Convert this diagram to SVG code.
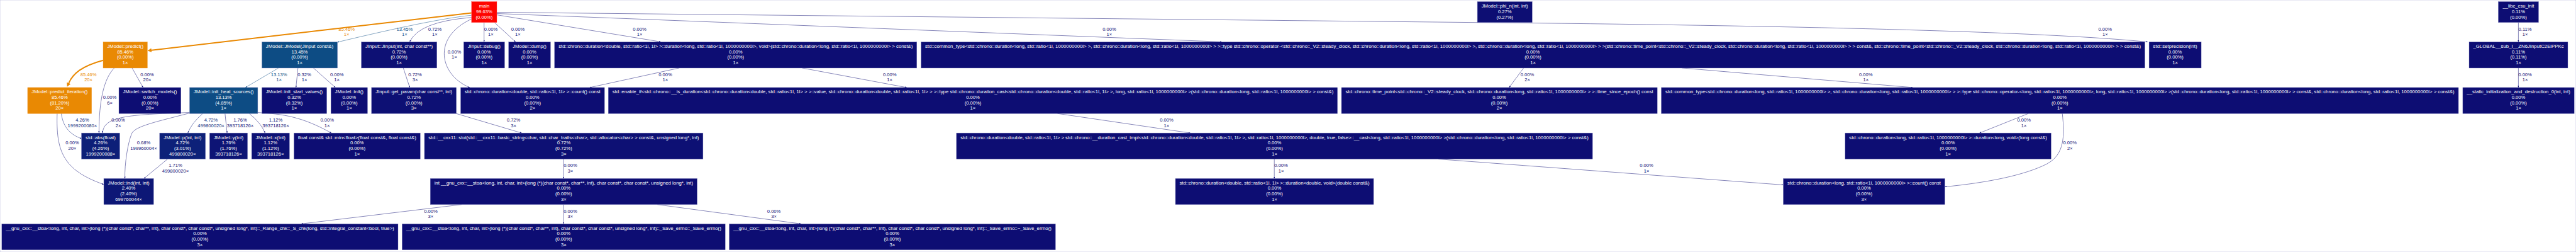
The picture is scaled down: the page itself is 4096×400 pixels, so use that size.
<svg xmlns="http://www.w3.org/2000/svg" width="4096" height="400" viewBox="0 0 4096 400">
<style>
text{font-family:"Liberation Sans",Arial,sans-serif;font-size:7.6px;text-anchor:middle}
.t{fill:#ffffff}
rect{stroke:#8a8ac4;stroke-width:0.4}
.c0{fill:#0d0d73}.c1{fill:#0d0e73}.c2{fill:#0d1074}.c3{fill:#0d1174}.c4{fill:#0d1475}.c5{fill:#0d1776}.c6{fill:#0d1f78}.c7{fill:#0d2179}
.ct{fill:#0d4c84}.co{fill:#e98903;stroke:#f0a040}.cr{fill:#fe0400;stroke:#ff6060}
.e{fill:none;stroke-width:0.5}
.ed{stroke:#0d0d73}.eb{stroke:#0d1f78}.et{stroke:#0d4c84}.eo{stroke:#e98903;stroke-width:2}
.ld{fill:#0d0d73}.lb{fill:#0d1f78}.lt{fill:#0d4c84}.lo{fill:#e98903}
</style>
<defs>
<marker id="ad" viewBox="0 0 10 10" refX="10" refY="5" markerUnits="userSpaceOnUse" markerWidth="2.8" markerHeight="2.2" preserveAspectRatio="none" orient="auto"><path d="M0,0L10,5L0,10z" fill="#0d0d73"/></marker>
<marker id="ab" viewBox="0 0 10 10" refX="10" refY="5" markerUnits="userSpaceOnUse" markerWidth="2.8" markerHeight="2.2" preserveAspectRatio="none" orient="auto"><path d="M0,0L10,5L0,10z" fill="#0d1f78"/></marker>
<marker id="at" viewBox="0 0 10 10" refX="10" refY="5" markerUnits="userSpaceOnUse" markerWidth="2.8" markerHeight="2.2" preserveAspectRatio="none" orient="auto"><path d="M0,0L10,5L0,10z" fill="#0d4c84"/></marker>
<marker id="ao" viewBox="0 0 10 10" refX="0" refY="5" markerUnits="userSpaceOnUse" markerWidth="6.5" markerHeight="6.4" preserveAspectRatio="none" orient="auto"><path d="M0,0L10,5L0,10z" fill="#e98903"/></marker>
</defs>
<rect x="0" y="0" width="4096" height="400" fill="#ffffff" stroke="none"/>

<g id="edges">
<path class="e eo" d="M749.8,20.4L240.9,79.75" marker-end="url(#ao)"/>
<path class="e et" d="M749.8,24.2Q690,30 536.6,66.9" marker-end="url(#at)"/>
<path class="e ed" d="M749.8,27.7Q666.1,34.2 651.5,66.4" marker-end="url(#ad)"/>
<path class="e ed" d="M769.7,35.7L769.7,66.6" marker-end="url(#ad)"/>
<path class="e ed" d="M786.3,35.7L819.9,66.6" marker-end="url(#ad)"/>
<path class="e ed" d="M749.8,30.1C685,60 700,120 747,138.9" marker-end="url(#ad)"/>
<path class="e ed" d="M790,23.6L1050.7,66.4" marker-end="url(#ad)"/>
<path class="e ed" d="M790,21.5L1942.7,66.4" marker-end="url(#ad)"/>
<path class="e ed" d="M790,19.5L2436,36.6Q3200,45 3414.9,66.6" marker-end="url(#ad)"/>
<path class="e eo" d="M164,95.7C129.7,104.9 116,117 109.3,131.9" marker-end="url(#ao)"/>
<path class="e ed" d="M181.7,107.9C165,125 157.4,160 157.4,211.1" marker-end="url(#ad)"/>
<path class="e ed" d="M210,107.9L227.5,138.9" marker-end="url(#ad)"/>
<path class="e eb" d="M97.5,180.2C100,200 110,213 129.5,220" marker-end="url(#ab)"/>
<path class="e ed" d="M90.9,180.2C89,240 100,270 165,292.8" marker-end="url(#ad)"/>
<path class="e ed" d="M301.4,178.6C200,182 165,185 163.1,211.1" marker-end="url(#ad)"/>
<path class="e ed" d="M301.4,179.5C250,193 215,200 209.4,212C203,228 198,260 198.6,283.3" marker-end="url(#ad)"/>
<path class="e eb" d="M322.3,180.2Q305,195 298.7,211.1" marker-end="url(#ab)"/>
<path class="e ed" d="M357.8,180.2L361.1,211.1" marker-end="url(#ad)"/>
<path class="e ed" d="M396.4,180.2Q415,195 421.4,211.1" marker-end="url(#ad)"/>
<path class="e ed" d="M409.9,178.6C450,181 480,185 526.8,211.1" marker-end="url(#ad)"/>
<path class="e ed" d="M266.4,252.5L228.9,283.3" marker-end="url(#ad)"/>
<path class="e et" d="M442.7,108L390.2,138.9" marker-end="url(#at)"/>
<path class="e ed" d="M473.8,107.9L470.6,138.9" marker-end="url(#ad)"/>
<path class="e ed" d="M498.3,107.9L533.3,138.9" marker-end="url(#ad)"/>
<path class="e ed" d="M641.3,107.9L651.5,138.9" marker-end="url(#ad)"/>
<path class="e ed" d="M725.2,180.2L829.4,211.1" marker-end="url(#ad)"/>
<path class="e ed" d="M896.1,252.5L896.1,283.3" marker-end="url(#ad)"/>
<path class="e ed" d="M733.9,324.7L479.2,355.3" marker-end="url(#ad)"/>
<path class="e ed" d="M896.1,324.7L896.1,355.3" marker-end="url(#ad)"/>
<path class="e ed" d="M1045.3,324.7L1273.6,355.3" marker-end="url(#ad)"/>
<path class="e ed" d="M1080.2,107.9L937.8,138.9" marker-end="url(#ad)"/>
<path class="e ed" d="M1275.3,107.9L1441.7,138.9" marker-end="url(#ad)"/>
<path class="e ed" d="M1681.5,180.2L1892.6,211.1" marker-end="url(#ad)"/>
<path class="e ed" d="M2026.2,252.5L2026.2,283.3" marker-end="url(#ad)"/>
<path class="e ed" d="M2286.8,252.5L2835.5,293.5" marker-end="url(#ad)"/>
<path class="e ed" d="M2422.6,107.9L2399.6,138.9" marker-end="url(#ad)"/>
<path class="e ed" d="M2674.3,107.9L3041.4,138.9" marker-end="url(#ad)"/>
<path class="e ed" d="M3225.2,180.2L3147.7,211.1" marker-end="url(#ad)"/>
<path class="e ed" d="M3279.2,180.2C3283,215 3283,245 3255,260C3220,278 3160,290 3092.4,296.5" marker-end="url(#ad)"/>
<path class="e ed" d="M4004.4,35.7L4004.4,66.6" marker-end="url(#ad)"/>
<path class="e ed" d="M4004.4,108L4004.4,138.9" marker-end="url(#ad)"/>

<text class="lo" x="551.1" y="48.8">85.46%</text><text class="lo" x="551.1" y="57.3">1×</text>
<text class="lt" x="643.4" y="48.8">13.45%</text><text class="lt" x="643.4" y="57.3">1×</text>
<text class="ld" x="691.4" y="48.8">0.72%</text><text class="ld" x="691.4" y="57.3">1×</text>
<text class="ld" x="780.4" y="48.8">0.00%</text><text class="ld" x="780.4" y="57.3">1×</text>
<text class="ld" x="823.4" y="48.8">0.00%</text><text class="ld" x="823.4" y="57.3">1×</text>
<text class="ld" x="722.4" y="84.7">0.00%</text><text class="ld" x="722.4" y="93.4">1×</text>
<text class="ld" x="1017" y="48.8">0.00%</text><text class="ld" x="1017" y="57.3">1×</text>
<text class="ld" x="1763.9" y="48.8">0.00%</text><text class="ld" x="1763.9" y="57.3">1×</text>
<text class="ld" x="3347.3" y="48.8">0.00%</text><text class="ld" x="3347.3" y="57.3">1×</text>
<text class="lo" x="140.6" y="120.7">85.46%</text><text class="lo" x="140.6" y="129.4">20×</text>
<text class="ld" x="174.5" y="157.1">0.00%</text><text class="ld" x="174.5" y="165.6">6×</text>
<text class="ld" x="234" y="120.7">0.00%</text><text class="ld" x="234" y="129.4">20×</text>
<text class="lb" x="130.9" y="193">4.26%</text><text class="lb" x="130.9" y="201.9">1999200080×</text>
<text class="ld" x="114.9" y="229.2">0.00%</text><text class="ld" x="114.9" y="237.9">20×</text>
<text class="ld" x="188" y="193">0.00%</text><text class="ld" x="188" y="201.9">2×</text>
<text class="ld" x="228.5" y="229.2">0.68%</text><text class="ld" x="228.5" y="237.9">199960004×</text>
<text class="lb" x="335.6" y="193">4.72%</text><text class="lb" x="335.6" y="201.9">499800020×</text>
<text class="ld" x="382" y="193">1.76%</text><text class="ld" x="382" y="201.9">393718126×</text>
<text class="ld" x="438.5" y="193">1.12%</text><text class="ld" x="438.5" y="201.9">393718126×</text>
<text class="ld" x="520.2" y="193">0.00%</text><text class="ld" x="520.2" y="201.9">1×</text>
<text class="ld" x="278.9" y="265.2">1.71%</text><text class="ld" x="278.9" y="274.1">499800020×</text>
<text class="lt" x="443.7" y="120.7">13.13%</text><text class="lt" x="443.7" y="129.4">1×</text>
<text class="ld" x="484" y="120.7">0.32%</text><text class="ld" x="484" y="129.4">1×</text>
<text class="ld" x="535.7" y="120.7">0.00%</text><text class="ld" x="535.7" y="129.4">1×</text>
<text class="ld" x="660.1" y="120.7">0.72%</text><text class="ld" x="660.1" y="129.4">3×</text>
<text class="ld" x="816.6" y="193">0.72%</text><text class="ld" x="816.6" y="201.9">3×</text>
<text class="ld" x="906.9" y="265.2">0.00%</text><text class="ld" x="906.9" y="274.1">3×</text>
<text class="ld" x="684.9" y="337.7">0.00%</text><text class="ld" x="684.9" y="346.4">3×</text>
<text class="ld" x="906.9" y="337.7">0.00%</text><text class="ld" x="906.9" y="346.4">3×</text>
<text class="ld" x="1230.6" y="337.7">0.00%</text><text class="ld" x="1230.6" y="346.4">3×</text>
<text class="ld" x="1057.9" y="120.7">0.00%</text><text class="ld" x="1057.9" y="129.4">1×</text>
<text class="ld" x="1414.7" y="120.7">0.00%</text><text class="ld" x="1414.7" y="129.4">1×</text>
<text class="ld" x="1854.9" y="193">0.00%</text><text class="ld" x="1854.9" y="201.9">1×</text>
<text class="ld" x="2037.1" y="265.2">0.00%</text><text class="ld" x="2037.1" y="274.1">1×</text>
<text class="ld" x="2618" y="265.2">0.00%</text><text class="ld" x="2618" y="274.1">1×</text>
<text class="ld" x="2428.5" y="120.7">0.00%</text><text class="ld" x="2428.5" y="129.4">2×</text>
<text class="ld" x="2966.8" y="120.7">0.00%</text><text class="ld" x="2966.8" y="129.4">1×</text>
<text class="ld" x="3218.2" y="193">0.00%</text><text class="ld" x="3218.2" y="201.9">1×</text>
<text class="ld" x="3291.3" y="229.2">0.00%</text><text class="ld" x="3291.3" y="237.9">2×</text>
<text class="ld" x="4015.1" y="48.8">0.11%</text><text class="ld" x="4015.1" y="57.3">1×</text>
<text class="ld" x="4015.1" y="120.7">0.00%</text><text class="ld" x="4015.1" y="129.4">1×</text>
</g>

<g id="n_main"><rect class="cr" x="749.8" y="2.5" width="40.2" height="33.2"/><text class="t" x="769.9" y="12.4">main</text><text class="t" x="769.9" y="21.1">99.63%</text><text class="t" x="769.9" y="29.8">(0.00%)</text></g>
<g id="n_phi_n"><rect class="c1" x="2349.1" y="2.5" width="87.2" height="33.2"/><text class="t" x="2392.7" y="12.4" textLength="74" lengthAdjust="spacingAndGlyphs">JModel::phi_n(int, int)</text><text class="t" x="2392.7" y="21.1">0.27%</text><text class="t" x="2392.7" y="29.8">(0.27%)</text></g>
<g id="n_libc"><rect class="c0" x="3972.4" y="2.5" width="64.1" height="33.2"/><text class="t" x="4004.45" y="12.4">__libc_csu_init</text><text class="t" x="4004.45" y="21.1">0.11%</text><text class="t" x="4004.45" y="29.8">(0.00%)</text></g>

<g id="n_predict"><rect class="co" x="164" y="66.6" width="70.4" height="41.4"/><text class="t" x="199.2" y="76" textLength="57.6" lengthAdjust="spacingAndGlyphs">JModel::predict()</text><text class="t" x="199.2" y="84.7">85.46%</text><text class="t" x="199.2" y="93.4">(0.00%)</text><text class="t" x="199.2" y="102.1">1×</text></g>
<g id="n_jmodel"><rect class="ct" x="416.4" y="66.6" width="120.2" height="41.4"/><text class="t" x="476.5" y="76" textLength="107.3" lengthAdjust="spacingAndGlyphs">JModel::JModel(JInput const&amp;)</text><text class="t" x="476.5" y="84.7">13.45%</text><text class="t" x="476.5" y="93.4">(0.00%)</text><text class="t" x="476.5" y="102.1">1×</text></g>
<g id="n_jinput"><rect class="c2" x="574.5" y="66.6" width="120.2" height="41.4"/><text class="t" x="634.6" y="76" textLength="107.3" lengthAdjust="spacingAndGlyphs">JInput::JInput(int, char const**)</text><text class="t" x="634.6" y="84.7">0.72%</text><text class="t" x="634.6" y="93.4">(0.00%)</text><text class="t" x="634.6" y="102.1">1×</text></g>
<g id="n_debug"><rect class="c0" x="737.2" y="66.6" width="65.2" height="41.4"/><text class="t" x="769.8" y="76" textLength="52.3" lengthAdjust="spacingAndGlyphs">JInput::debug()</text><text class="t" x="769.8" y="84.7">0.00%</text><text class="t" x="769.8" y="93.4">(0.00%)</text><text class="t" x="769.8" y="102.1">1×</text></g>
<g id="n_dump"><rect class="c0" x="808.7" y="66.6" width="66.7" height="41.4"/><text class="t" x="842.05" y="76" textLength="53.8" lengthAdjust="spacingAndGlyphs">JModel::dump()</text><text class="t" x="842.05" y="84.7">0.00%</text><text class="t" x="842.05" y="93.4">(0.00%)</text><text class="t" x="842.05" y="102.1">1×</text></g>
<g id="n_dur_ctor"><rect class="c0" x="881.7" y="66.6" width="576.1" height="41.4"/><text class="t" x="1169.75" y="76" textLength="563.2" lengthAdjust="spacingAndGlyphs">std::chrono::duration&lt;double, std::ratio&lt;1l, 1l&gt; &gt;::duration&lt;long, std::ratio&lt;1l, 1000000000l&gt;, void&gt;(std::chrono::duration&lt;long, std::ratio&lt;1l, 1000000000l&gt; &gt; const&amp;)</text><text class="t" x="1169.75" y="84.7">0.00%</text><text class="t" x="1169.75" y="93.4">(0.00%)</text><text class="t" x="1169.75" y="102.1">1×</text></g>
<g id="n_op_minus_tp"><rect class="c0" x="1464.5" y="66.6" width="1946" height="41.4"/><text class="t" x="2437.5" y="76" textLength="1933.1" lengthAdjust="spacingAndGlyphs">std::common_type&lt;std::chrono::duration&lt;long, std::ratio&lt;1l, 1000000000l&gt; &gt;, std::chrono::duration&lt;long, std::ratio&lt;1l, 1000000000l&gt; &gt; &gt;::type std::chrono::operator-&lt;std::chrono::_V2::steady_clock, std::chrono::duration&lt;long, std::ratio&lt;1l, 1000000000l&gt; &gt;, std::chrono::duration&lt;long, std::ratio&lt;1l, 1000000000l&gt; &gt; &gt;(std::chrono::time_point&lt;std::chrono::_V2::steady_clock, std::chrono::duration&lt;long, std::ratio&lt;1l, 1000000000l&gt; &gt; &gt; const&amp;, std::chrono::time_point&lt;std::chrono::_V2::steady_clock, std::chrono::duration&lt;long, std::ratio&lt;1l, 1000000000l&gt; &gt; &gt; const&amp;)</text><text class="t" x="2437.5" y="84.7">0.00%</text><text class="t" x="2437.5" y="93.4">(0.00%)</text><text class="t" x="2437.5" y="102.1">1×</text></g>
<g id="n_setprecision"><rect class="c0" x="3417.1" y="66.6" width="83" height="41.4"/><text class="t" x="3458.6" y="76" textLength="70.1" lengthAdjust="spacingAndGlyphs">std::setprecision(int)</text><text class="t" x="3458.6" y="84.7">0.00%</text><text class="t" x="3458.6" y="93.4">(0.00%)</text><text class="t" x="3458.6" y="102.1">1×</text></g>
<g id="n_global"><rect class="c0" x="3926" y="66.6" width="157" height="41.4"/><text class="t" x="4004.5" y="76" textLength="144.1" lengthAdjust="spacingAndGlyphs">_GLOBAL__sub_I__ZN6JInputC2EiPPKc</text><text class="t" x="4004.5" y="84.7">0.11%</text><text class="t" x="4004.5" y="93.4">(0.11%)</text><text class="t" x="4004.5" y="102.1">1×</text></g>

<g id="n_predict_iteration"><rect class="co" x="43.9" y="138.9" width="101.8" height="41.4"/><text class="t" x="94.8" y="148.3" textLength="88.9" lengthAdjust="spacingAndGlyphs">JModel::predict_iteration()</text><text class="t" x="94.8" y="157">85.46%</text><text class="t" x="94.8" y="165.7">(81.20%)</text><text class="t" x="94.8" y="174.4">20×</text></g>
<g id="n_switch_models"><rect class="c0" x="189" y="138.9" width="98.8" height="41.4"/><text class="t" x="238.4" y="148.3" textLength="85.9" lengthAdjust="spacingAndGlyphs">JModel::switch_models()</text><text class="t" x="238.4" y="157">0.00%</text><text class="t" x="238.4" y="165.7">(0.00%)</text><text class="t" x="238.4" y="174.4">20×</text></g>
<g id="n_init_heat_sources"><rect class="ct" x="301.4" y="138.9" width="108.5" height="41.4"/><text class="t" x="355.65" y="148.3" textLength="95.6" lengthAdjust="spacingAndGlyphs">JModel::init_heat_sources()</text><text class="t" x="355.65" y="157">13.13%</text><text class="t" x="355.65" y="165.7">(4.85%)</text><text class="t" x="355.65" y="174.4">1×</text></g>
<g id="n_init_start_values"><rect class="c1" x="416.3" y="138.9" width="103.3" height="41.4"/><text class="t" x="467.95" y="148.3" textLength="90.4" lengthAdjust="spacingAndGlyphs">JModel::init_start_values()</text><text class="t" x="467.95" y="157">0.32%</text><text class="t" x="467.95" y="165.7">(0.32%)</text><text class="t" x="467.95" y="174.4">1×</text></g>
<g id="n_init"><rect class="c0" x="526.1" y="138.9" width="58.3" height="41.4"/><text class="t" x="555.25" y="148.3" textLength="45.4" lengthAdjust="spacingAndGlyphs">JModel::init()</text><text class="t" x="555.25" y="157">0.00%</text><text class="t" x="555.25" y="165.7">(0.00%)</text><text class="t" x="555.25" y="174.4">1×</text></g>
<g id="n_get_param"><rect class="c2" x="590.7" y="138.9" width="134.9" height="41.4"/><text class="t" x="658.15" y="148.3" textLength="122" lengthAdjust="spacingAndGlyphs">JInput::get_param(char const**, int)</text><text class="t" x="658.15" y="157">0.72%</text><text class="t" x="658.15" y="165.7">(0.00%)</text><text class="t" x="658.15" y="174.4">3×</text></g>
<g id="n_count_double"><rect class="c0" x="732.4" y="138.9" width="228.8" height="41.4"/><text class="t" x="846.8" y="148.3" textLength="215.9" lengthAdjust="spacingAndGlyphs">std::chrono::duration&lt;double, std::ratio&lt;1l, 1l&gt; &gt;::count() const</text><text class="t" x="846.8" y="157">0.00%</text><text class="t" x="846.8" y="165.7">(0.00%)</text><text class="t" x="846.8" y="174.4">2×</text></g>
<g id="n_duration_cast"><rect class="c0" x="967.2" y="138.9" width="1159.5" height="41.4"/><text class="t" x="1546.95" y="148.3" textLength="1146.6" lengthAdjust="spacingAndGlyphs">std::enable_if&lt;std::chrono::__is_duration&lt;std::chrono::duration&lt;double, std::ratio&lt;1l, 1l&gt; &gt; &gt;::value, std::chrono::duration&lt;double, std::ratio&lt;1l, 1l&gt; &gt; &gt;::type std::chrono::duration_cast&lt;std::chrono::duration&lt;double, std::ratio&lt;1l, 1l&gt; &gt;, long, std::ratio&lt;1l, 1000000000l&gt; &gt;(std::chrono::duration&lt;long, std::ratio&lt;1l, 1000000000l&gt; &gt; const&amp;)</text><text class="t" x="1546.95" y="157">0.00%</text><text class="t" x="1546.95" y="165.7">(0.00%)</text><text class="t" x="1546.95" y="174.4">1×</text></g>
<g id="n_time_since_epoch"><rect class="c0" x="2133" y="138.9" width="502.2" height="41.4"/><text class="t" x="2384.1" y="148.3" textLength="489.3" lengthAdjust="spacingAndGlyphs">std::chrono::time_point&lt;std::chrono::_V2::steady_clock, std::chrono::duration&lt;long, std::ratio&lt;1l, 1000000000l&gt; &gt; &gt;::time_since_epoch() const</text><text class="t" x="2384.1" y="157">0.00%</text><text class="t" x="2384.1" y="165.7">(0.00%)</text><text class="t" x="2384.1" y="174.4">2×</text></g>
<g id="n_op_minus_dur"><rect class="c0" x="2641.5" y="138.9" width="1267.6" height="41.4"/><text class="t" x="3275.3" y="148.3" textLength="1254.7" lengthAdjust="spacingAndGlyphs">std::common_type&lt;std::chrono::duration&lt;long, std::ratio&lt;1l, 1000000000l&gt; &gt;, std::chrono::duration&lt;long, std::ratio&lt;1l, 1000000000l&gt; &gt; &gt;::type std::chrono::operator-&lt;long, std::ratio&lt;1l, 1000000000l&gt;, long, std::ratio&lt;1l, 1000000000l&gt; &gt;(std::chrono::duration&lt;long, std::ratio&lt;1l, 1000000000l&gt; &gt; const&amp;, std::chrono::duration&lt;long, std::ratio&lt;1l, 1000000000l&gt; &gt; const&amp;)</text><text class="t" x="3275.3" y="157">0.00%</text><text class="t" x="3275.3" y="165.7">(0.00%)</text><text class="t" x="3275.3" y="174.4">1×</text></g>
<g id="n_static_init"><rect class="c0" x="3915.9" y="138.9" width="177.3" height="41.4"/><text class="t" x="4004.55" y="148.3" textLength="164.4" lengthAdjust="spacingAndGlyphs">__static_initialization_and_destruction_0(int, int)</text><text class="t" x="4004.55" y="157">0.00%</text><text class="t" x="4004.55" y="165.7">(0.00%)</text><text class="t" x="4004.55" y="174.4">1×</text></g>

<g id="n_abs"><rect class="c6" x="129.5" y="211.1" width="60.9" height="41.4"/><text class="t" x="159.95" y="220.5" textLength="48" lengthAdjust="spacingAndGlyphs">std::abs(float)</text><text class="t" x="159.95" y="229.2">4.26%</text><text class="t" x="159.95" y="237.9">(4.26%)</text><text class="t" x="159.95" y="246.6">1999200088×</text></g>
<g id="n_p"><rect class="c7" x="253.8" y="211.1" width="72.9" height="41.4"/><text class="t" x="290.25" y="220.5" textLength="60" lengthAdjust="spacingAndGlyphs">JModel::p(int, int)</text><text class="t" x="290.25" y="229.2">4.72%</text><text class="t" x="290.25" y="237.9">(3.01%)</text><text class="t" x="290.25" y="246.6">499800020×</text></g>
<g id="n_y"><rect class="c4" x="333.2" y="211.1" width="60.4" height="41.4"/><text class="t" x="363.4" y="220.5" textLength="47.5" lengthAdjust="spacingAndGlyphs">JModel::y(int)</text><text class="t" x="363.4" y="229.2">1.76%</text><text class="t" x="363.4" y="237.9">(1.76%)</text><text class="t" x="363.4" y="246.6">393718126×</text></g>
<g id="n_x"><rect class="c3" x="400.1" y="211.1" width="60.2" height="41.4"/><text class="t" x="430.2" y="220.5" textLength="47.3" lengthAdjust="spacingAndGlyphs">JModel::x(int)</text><text class="t" x="430.2" y="229.2">1.12%</text><text class="t" x="430.2" y="237.9">(1.12%)</text><text class="t" x="430.2" y="246.6">393718126×</text></g>
<g id="n_min"><rect class="c0" x="467.3" y="211.1" width="201" height="41.4"/><text class="t" x="567.8" y="220.5" textLength="188.1" lengthAdjust="spacingAndGlyphs">float const&amp; std::min&lt;float&gt;(float const&amp;, float const&amp;)</text><text class="t" x="567.8" y="229.2">0.00%</text><text class="t" x="567.8" y="237.9">(0.00%)</text><text class="t" x="567.8" y="246.6">1×</text></g>
<g id="n_stoi"><rect class="c2" x="674.9" y="211.1" width="443" height="41.4"/><text class="t" x="896.4" y="220.5" textLength="430.1" lengthAdjust="spacingAndGlyphs">std::__cxx11::stoi(std::__cxx11::basic_string&lt;char, std::char_traits&lt;char&gt;, std::allocator&lt;char&gt; &gt; const&amp;, unsigned long*, int)</text><text class="t" x="896.4" y="229.2">0.72%</text><text class="t" x="896.4" y="237.9">(0.72%)</text><text class="t" x="896.4" y="246.6">3×</text></g>
<g id="n_cast_impl"><rect class="c0" x="1520.8" y="211.1" width="1011.4" height="41.4"/><text class="t" x="2026.5" y="220.5" textLength="998.5" lengthAdjust="spacingAndGlyphs">std::chrono::duration&lt;double, std::ratio&lt;1l, 1l&gt; &gt; std::chrono::__duration_cast_impl&lt;std::chrono::duration&lt;double, std::ratio&lt;1l, 1l&gt; &gt;, std::ratio&lt;1l, 1000000000l&gt;, double, true, false&gt;::__cast&lt;long, std::ratio&lt;1l, 1000000000l&gt; &gt;(std::chrono::duration&lt;long, std::ratio&lt;1l, 1000000000l&gt; &gt; const&amp;)</text><text class="t" x="2026.5" y="229.2">0.00%</text><text class="t" x="2026.5" y="237.9">(0.00%)</text><text class="t" x="2026.5" y="246.6">1×</text></g>
<g id="n_dur_long_ctor"><rect class="c0" x="2933.9" y="211.1" width="327.5" height="41.4"/><text class="t" x="3097.65" y="220.5" textLength="314.6" lengthAdjust="spacingAndGlyphs">std::chrono::duration&lt;long, std::ratio&lt;1l, 1000000000l&gt; &gt;::duration&lt;long, void&gt;(long const&amp;)</text><text class="t" x="3097.65" y="229.2">0.00%</text><text class="t" x="3097.65" y="237.9">(0.00%)</text><text class="t" x="3097.65" y="246.6">1×</text></g>

<g id="n_ind"><rect class="c5" x="165" y="283.3" width="79.2" height="41.4"/><text class="t" x="204.6" y="292.7" textLength="66.3" lengthAdjust="spacingAndGlyphs">JModel::ind(int, int)</text><text class="t" x="204.6" y="301.4">2.40%</text><text class="t" x="204.6" y="310.1">(2.40%)</text><text class="t" x="204.6" y="318.8">699760044×</text></g>
<g id="n_int_stoa"><rect class="c0" x="684.2" y="283.3" width="424.3" height="41.4"/><text class="t" x="896.35" y="292.7" textLength="411.4" lengthAdjust="spacingAndGlyphs">int __gnu_cxx::__stoa&lt;long, int, char, int&gt;(long (*)(char const*, char**, int), char const*, char const*, unsigned long*, int)</text><text class="t" x="896.35" y="301.4">0.00%</text><text class="t" x="896.35" y="310.1">(0.00%)</text><text class="t" x="896.35" y="318.8">3×</text></g>
<g id="n_dur_double_ctor"><rect class="c0" x="1869" y="283.3" width="315.1" height="41.4"/><text class="t" x="2026.55" y="292.7" textLength="302.2" lengthAdjust="spacingAndGlyphs">std::chrono::duration&lt;double, std::ratio&lt;1l, 1l&gt; &gt;::duration&lt;double, void&gt;(double const&amp;)</text><text class="t" x="2026.55" y="301.4">0.00%</text><text class="t" x="2026.55" y="310.1">(0.00%)</text><text class="t" x="2026.55" y="318.8">1×</text></g>
<g id="n_count_long"><rect class="c0" x="2835.5" y="283.3" width="256.9" height="41.4"/><text class="t" x="2963.95" y="292.7" textLength="244" lengthAdjust="spacingAndGlyphs">std::chrono::duration&lt;long, std::ratio&lt;1l, 1000000000l&gt; &gt;::count() const</text><text class="t" x="2963.95" y="301.4">0.00%</text><text class="t" x="2963.95" y="310.1">(0.00%)</text><text class="t" x="2963.95" y="318.8">3×</text></g>

<g id="n_range_chk"><rect class="c0" x="2.8" y="355.3" width="630.2" height="41.4"/><text class="t" x="317.9" y="364.7" textLength="617.3" lengthAdjust="spacingAndGlyphs">__gnu_cxx::__stoa&lt;long, int, char, int&gt;(long (*)(char const*, char**, int), char const*, char const*, unsigned long*, int)::_Range_chk::_S_chk(long, std::integral_constant&lt;bool, true&gt;)</text><text class="t" x="317.9" y="373.4">0.00%</text><text class="t" x="317.9" y="382.1">(0.00%)</text><text class="t" x="317.9" y="390.8">3×</text></g>
<g id="n_save_errno"><rect class="c0" x="639.3" y="355.3" width="513.9" height="41.4"/><text class="t" x="896.25" y="364.7" textLength="501" lengthAdjust="spacingAndGlyphs">__gnu_cxx::__stoa&lt;long, int, char, int&gt;(long (*)(char const*, char**, int), char const*, char const*, unsigned long*, int)::_Save_errno::_Save_errno()</text><text class="t" x="896.25" y="373.4">0.00%</text><text class="t" x="896.25" y="382.1">(0.00%)</text><text class="t" x="896.25" y="390.8">3×</text></g>
<g id="n_save_errno_dtor"><rect class="c0" x="1159.5" y="355.3" width="518.8" height="41.4"/><text class="t" x="1418.9" y="364.7" textLength="505.9" lengthAdjust="spacingAndGlyphs">__gnu_cxx::__stoa&lt;long, int, char, int&gt;(long (*)(char const*, char**, int), char const*, char const*, unsigned long*, int)::_Save_errno::~_Save_errno()</text><text class="t" x="1418.9" y="373.4">0.00%</text><text class="t" x="1418.9" y="382.1">(0.00%)</text><text class="t" x="1418.9" y="390.8">3×</text></g>
</svg>
